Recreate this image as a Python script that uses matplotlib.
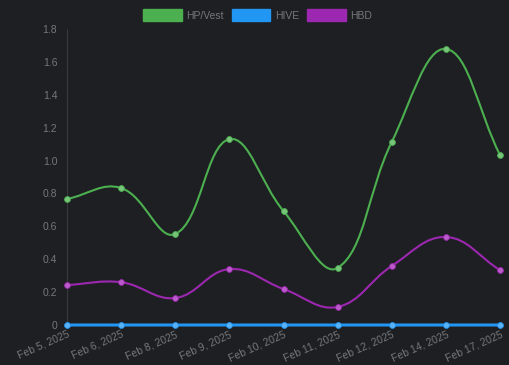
import matplotlib
matplotlib.use("Agg")
import matplotlib.pyplot as plt
from matplotlib.path import Path
from matplotlib.patches import PathPatch, Patch
import numpy as np

dates = ["Feb 5, 2025", "Feb 6, 2025", "Feb 8, 2025", "Feb 9, 2025", "Feb 10, 2025",
         "Feb 11, 2025", "Feb 12, 2025", "Feb 14, 2025", "Feb 17, 2025"]
hp_vest = [0.766, 0.833, 0.553, 1.13, 0.693, 0.347, 1.113, 1.679, 1.034]
hive = [0, 0, 0, 0, 0, 0, 0, 0, 0]
hbd = [0.243, 0.26, 0.164, 0.34, 0.219, 0.11, 0.359, 0.535, 0.334]
yticks = [0, 0.2, 0.4, 0.6, 0.8, 1.0, 1.2, 1.4, 1.6, 1.8]
ytick_labels = ["0", "0.2", "0.4", "0.6", "0.8", "1.0", "1.2", "1.4", "1.6", "1.8"]

series = [("HP/Vest", hp_vest, "#4caf50", "#78c47b"),
          ("HIVE", hive, "#2196f3", "#5ab2f5"),
          ("HBD", hbd, "#9c27b0", "#b95cc9")]

bg = "#1e1f22"
txt = "#76777b"
plt.rcParams['font.family'] = ['Liberation Sans', 'DejaVu Sans']

W, H = 510, 365
fig = plt.figure(figsize=(W / 100, H / 100), dpi=100, facecolor=bg)
L, R, B, T = 67, 500, 40, 336
ax = fig.add_axes([L / W, B / H, (R - L) / W, (T - B) / H], facecolor=bg)
x = np.arange(len(dates))
ax.set_xlim(0, len(dates) - 1)
ax.set_ylim(0, 1.8)
sx = (R - L) / (len(dates) - 1)
sy = (T - B) / 1.8


def spline_path(xs, ys, t=0.4):
    px = np.array(xs, float) * sx
    py = np.array(ys, float) * sy
    n = len(px)
    cps = []
    for i in range(n):
        p0 = (px[max(i - 1, 0)], py[max(i - 1, 0)])
        p1 = (px[i], py[i])
        p2 = (px[min(i + 1, n - 1)], py[min(i + 1, n - 1)])
        d01 = np.hypot(p1[0] - p0[0], p1[1] - p0[1])
        d12 = np.hypot(p2[0] - p1[0], p2[1] - p1[1])
        s = d01 + d12
        s01 = d01 / s if s else 0
        s12 = d12 / s if s else 0
        fa, fb = t * s01, t * s12
        c1 = (p1[0] - fa * (p2[0] - p0[0]), p1[1] - fa * (p2[1] - p0[1]))
        c2 = (p1[0] + fb * (p2[0] - p0[0]), p1[1] + fb * (p2[1] - p0[1]))
        cps.append((c1, c2))
    verts = [(px[0] / sx, py[0] / sy)]
    codes = [Path.MOVETO]
    for i in range(1, n):
        a = cps[i - 1][1]
        b = cps[i][0]
        verts += [(a[0] / sx, a[1] / sy), (b[0] / sx, b[1] / sy), (px[i] / sx, py[i] / sy)]
        codes += [Path.CURVE4] * 3
    return Path(verts, codes)


for name, vals, col, mcol in series:
    lw = 2.2 if name == "HIVE" else 1.5
    ax.add_patch(PathPatch(spline_path(x, vals), facecolor="none", edgecolor=col,
                           lw=lw, zorder=3, clip_on=False))
    ax.plot(x, vals, "o", color=mcol, ms=4.2, mec=col, mew=0.6, zorder=4, clip_on=False)

for s in ["top", "right", "bottom"]:
    ax.spines[s].set_visible(False)
ax.spines["left"].set_color("#38393d")
ax.spines["left"].set_linewidth(0.8)
ax.set_yticks(yticks)
ax.set_yticklabels(ytick_labels)
ax.set_xticks(x)
ax.set_xticklabels(dates, rotation=24, ha="right", rotation_mode="anchor")
ax.tick_params(axis="both", length=0, colors=txt, labelsize=7.5)
ax.tick_params(axis="y", pad=7)
ax.tick_params(axis="x", pad=3)

handles = [Patch(facecolor=c, edgecolor=c, label=n) for n, _, c, _ in series]
leg = fig.legend(handles=handles, loc="upper center", bbox_to_anchor=(0.505, 1.0), ncol=3,
                 frameon=False, fontsize=7.5, handlelength=3.7, handleheight=1.3,
                 handletextpad=0.4, columnspacing=0.8, labelcolor=txt)
fig.savefig("out.png", dpi=100, facecolor=bg)
